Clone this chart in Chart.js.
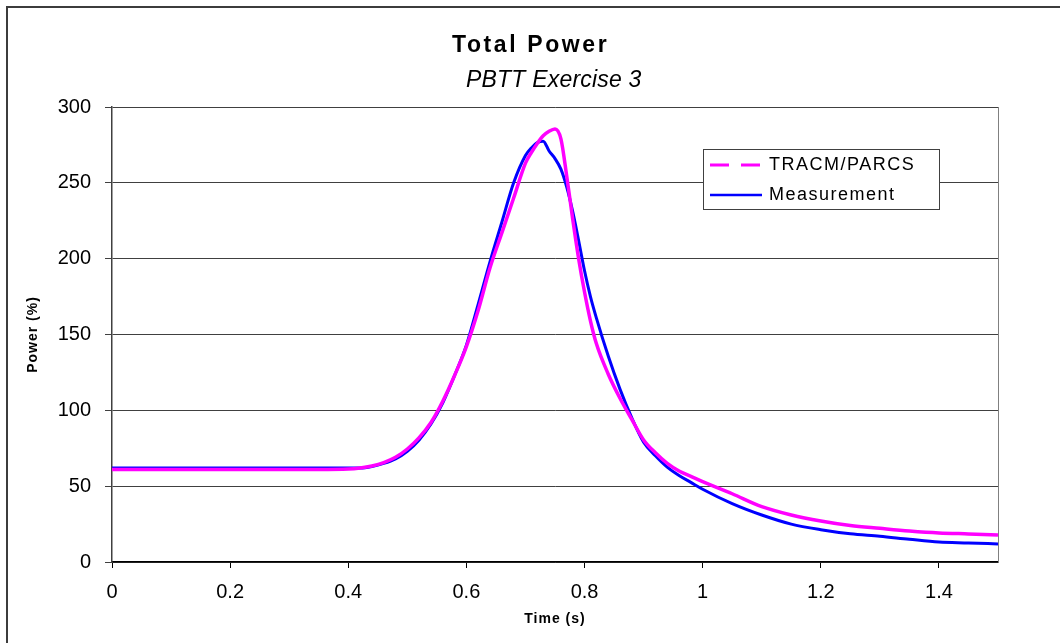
<!DOCTYPE html>
<html><head><meta charset="utf-8">
<script src="https://cdn.jsdelivr.net/npm/chart.js@4.4.1/dist/chart.umd.min.js"></script>
<style>html,body{margin:0;padding:0;background:#fff;}canvas{display:block;}</style>
</head><body>
<canvas id="c" width="1060" height="643"></canvas>
<script>
// ---- data ----
const times = [0, 0.05, 0.1, 0.15, 0.2, 0.25, 0.3, 0.35, 0.4,
  0.42, 0.44, 0.46, 0.48, 0.5, 0.52, 0.54, 0.56, 0.58, 0.6, 0.62, 0.64, 0.66, 0.68, 0.7,
  0.71, 0.72, 0.73, 0.74, 0.75, 0.76, 0.77, 0.78, 0.79, 0.8, 0.81, 0.82,
  0.84, 0.86, 0.88, 0.9, 0.92, 0.94, 0.96, 0.98, 1.0,
  1.05, 1.1, 1.15, 1.2, 1.25, 1.3, 1.35, 1.4, 1.45, 1.5];
const tracmParcs = [61, 61, 61, 61, 61, 61, 61, 61, 61.3,
  62, 63.3, 65.5, 69, 74.5, 82, 92, 106, 123, 142, 166, 194, 217, 240, 263,
  270, 276, 281, 284, 285.5, 279, 254, 226, 200, 178, 159, 144,
  124, 108, 94, 80.5, 72, 65, 60, 56.5, 53,
  45, 36.5, 31, 27, 24, 22.2, 20.5, 19.2, 18.5, 17.8];
const measurement = [62, 62, 62, 62, 62, 62, 62, 62, 62,
  62, 63, 65, 68, 73, 80.5, 91, 105, 123, 143, 170, 198, 224, 250, 268,
  273, 276.5, 277.5, 271, 266, 259, 247, 231, 212, 192, 175, 161,
  136, 114, 95, 79, 70, 62.5, 57, 52.5, 48,
  38.5, 31, 25, 21.3, 18.6, 17, 15, 13.2, 12.6, 11.9];
const seriesNames = ['TRACM/PARCS', 'Measurement'];
const xTicks = [0, 0.2, 0.4, 0.6, 0.8, 1, 1.2, 1.4];
const yTicks = [0, 50, 100, 150, 200, 250, 300];
const titleText = 'Total Power';
const subtitleText = 'PBTT Exercise 3';
const xTitle = 'Time (s)';
const yTitle = 'Power (%)';

const FONT = '"Liberation Sans", Arial, sans-serif';
const toXY = (vals) => times.map((t, i) => ({ x: t, y: vals[i] }));

const decor = {
  id: 'decor',
  beforeDraw(chart) {
    const ctx = chart.ctx;
    ctx.save();
    ctx.fillStyle = '#fff';
    ctx.fillRect(0, 0, chart.width, chart.height);
    ctx.restore();
  },
  afterDraw(chart) {
    const ctx = chart.ctx, a = chart.chartArea;
    ctx.save();
    // outer frame
    ctx.strokeStyle = '#3c3c3c'; ctx.lineWidth = 2;
    ctx.strokeRect(7, 7, chart.width + 40, chart.height + 40);
    // plot area right border
    ctx.strokeStyle = '#808080'; ctx.lineWidth = 1;
    ctx.beginPath(); ctx.moveTo(Math.round(a.right) + 0.5, a.top); ctx.lineTo(Math.round(a.right) + 0.5, a.bottom); ctx.stroke();

    ctx.fillStyle = '#000';
    ctx.textBaseline = 'alphabetic';
    ctx.textAlign = 'left';
    // title
    ctx.font = 'bold 23px ' + FONT;
    ctx.letterSpacing = '2.6px';
    ctx.fillText(titleText, 452, 52);
    ctx.font = 'italic 23px ' + FONT;
    ctx.letterSpacing = '0.2px';
    ctx.fillText(subtitleText, 466, 87);

    // axis titles
    ctx.font = 'bold 14px ' + FONT;
    ctx.letterSpacing = '1px';
    ctx.textAlign = 'center';
    ctx.textBaseline = 'middle';
    ctx.fillText(xTitle, (a.left + a.right) / 2, 619);
    ctx.save();
    ctx.translate(33, (a.top + a.bottom) / 2);
    ctx.rotate(-Math.PI / 2);
    ctx.fillText(yTitle, 0, 0);
    ctx.restore();

    // legend
    const lx = 703.5, ly = 149.5, lw = 236, lh = 60;
    ctx.fillStyle = '#fff';
    ctx.fillRect(lx, ly, lw, lh);
    ctx.strokeStyle = '#404040'; ctx.lineWidth = 1;
    ctx.strokeRect(lx, ly, lw, lh);
    const ds = chart.data.datasets;
    const rows = [165, 195];
    ds.forEach((d, i) => {
      const y = rows[i];
      ctx.strokeStyle = d.borderColor;
      ctx.lineWidth = i === 0 ? 3 : 2.5;
      ctx.setLineDash(i === 0 ? [19, 12] : []);
      ctx.beginPath(); ctx.moveTo(710, y); ctx.lineTo(762, y); ctx.stroke();
      ctx.setLineDash([]);
      ctx.fillStyle = '#000';
      ctx.font = '18px ' + FONT;
      ctx.letterSpacing = '1.5px';
      ctx.textAlign = 'left';
      ctx.textBaseline = 'middle';
      ctx.fillText(d.label, 769, y);
    });
    ctx.restore();
  }
};

new Chart(document.getElementById('c'), {
  type: 'line',
  data: {
    datasets: [
      { label: seriesNames[0], data: toXY(tracmParcs), borderColor: '#FF00FF', borderWidth: 3.5,
        pointRadius: 0, cubicInterpolationMode: 'monotone', fill: false },
      { label: seriesNames[1], data: toXY(measurement), borderColor: '#0000FF', borderWidth: 3,
        pointRadius: 0, cubicInterpolationMode: 'monotone', fill: false }
    ]
  },
  options: {
    responsive: false,
    animation: false,
    devicePixelRatio: 1,
    layout: { padding: { top: 107, right: 62, left: 0, bottom: 0 } },
    plugins: { legend: { display: false }, title: { display: false }, tooltip: { enabled: false } },
    scales: {
      x: {
        type: 'linear', min: 0, max: 1.5,
        afterBuildTicks: (s) => { s.ticks = xTicks.map(v => ({ value: v })); },
        afterFit: (s) => { s.height = 81; },
        ticks: { font: { family: FONT, size: 20 }, color: '#000', padding: 12, maxRotation: 0, autoSkip: false,
          callback: (v) => String(v) },
        grid: { display: true, drawOnChartArea: false, drawTicks: true, tickLength: 6, color: '#000' },
        border: { display: true, color: '#000', width: 1.5 }
      },
      y: {
        type: 'linear', min: 0, max: 300,
        afterBuildTicks: (s) => { s.ticks = yTicks.map(v => ({ value: v })); },
        afterFit: (s) => { s.width = 112; },
        ticks: { font: { family: FONT, size: 20 }, color: '#000', padding: 14, callback: (v) => String(v) },
        grid: { color: '#404040', lineWidth: 1, tickLength: 7, drawTicks: true },
        border: { display: true, color: '#404040', width: 1.5 }
      }
    }
  },
  plugins: [decor]
});
</script>
</body></html>
